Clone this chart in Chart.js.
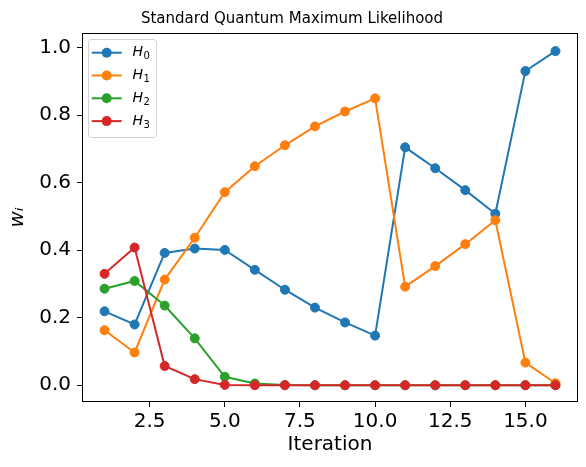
<!DOCTYPE html>
<html lang="en">
<head>
<meta charset="UTF-8">
<title>Standard Quantum Maximum Likelihood</title>
<script src="https://cdn.jsdelivr.net/npm/chart.js"></script>
<style>
    body { margin: 0; background: white; }
    #wrap { width: 586px; height: 467px; }
</style>
</head>
<body>
<div id="wrap"><canvas id="mlChart" width="586" height="467"></canvas></div>
<script>
    // values
    const iterations = [1, 2, 3, 4, 5, 6, 7, 8, 9, 10, 11, 12, 13, 14, 15, 16];
    const h0 = [0.219, 0.180, 0.392, 0.405, 0.401, 0.342, 0.283, 0.230, 0.186, 0.147, 0.705, 0.643, 0.578, 0.508, 0.931, 0.990];
    const h1 = [0.163, 0.097, 0.313, 0.437, 0.572, 0.649, 0.711, 0.767, 0.811, 0.850, 0.292, 0.353, 0.418, 0.489, 0.067, 0.006];
    const h2 = [0.286, 0.309, 0.236, 0.139, 0.025, 0.005, 0.001, 0, 0, 0, 0, 0, 0, 0, 0, 0];
    const h3 = [0.330, 0.408, 0.057, 0.018, 0.001, 0, 0, 0, 0, 0, 0, 0, 0, 0, 0, 0];
    const seriesNames = ['H₀', 'H₁', 'H₂', 'H₃'];
    const seriesColors = ['#1f77b4', '#ff7f0e', '#2ca02c', '#d62728'];
    const xTicks = [2.5, 5.0, 7.5, 10.0, 12.5, 15.0];
    const yTicks = [0.0, 0.2, 0.4, 0.6, 0.8, 1.0];

    const FONT = 'DejaVu Sans';

    const toPoints = vals => vals.map((v, i) => ({ x: iterations[i], y: v }));

    const datasets = [h0, h1, h2, h3].map((vals, i) => ({
        label: seriesNames[i],
        data: toPoints(vals),
        borderColor: seriesColors[i],
        backgroundColor: seriesColors[i],
        borderWidth: 2,
        pointRadius: 4.5,
        pointBorderWidth: 1,
        pointHoverRadius: 4.5,
        tension: 0,
        order: 4 - i   // later series on top, like matplotlib
    }));

    // unicode subscript digit -> plain digit, drawn small and lowered
    const plainDigits = s => s.replace(/[\u2080-\u2089]/g, c => String(c.charCodeAt(0) - 0x2080));

    // axes frame on all four sides + legend box inside the plot
    const frameAndLegend = {
        id: 'frameAndLegend',
        afterDraw(chart) {
            const { ctx, chartArea: a } = chart;
            ctx.save();
            ctx.strokeStyle = '#000';
            ctx.lineWidth = 1;
            const l = Math.round(a.left) + 0.5, t = Math.round(a.top) + 0.5;
            const r = Math.round(a.right) - 0.5, b = Math.round(a.bottom) - 0.5;
            ctx.strokeRect(l, t, r - l, b - t);

            const lx = Math.round(a.left) + 6, ly = Math.round(a.top) + 6;
            ctx.beginPath();
            if (ctx.roundRect) ctx.roundRect(lx + 0.5, ly + 0.5, 68, 98, 3);
            else ctx.rect(lx + 0.5, ly + 0.5, 68, 98);
            ctx.fillStyle = 'rgba(255,255,255,0.8)';
            ctx.fill();
            ctx.strokeStyle = '#d0d0d0';
            ctx.stroke();

            chart.data.datasets.forEach((ds, i) => {
                const cy = ly + 13.7 + i * 22.8;
                ctx.strokeStyle = ds.borderColor;
                ctx.lineWidth = 2;
                ctx.beginPath();
                ctx.moveTo(lx + 3.7, cy);
                ctx.lineTo(lx + 33.7, cy);
                ctx.stroke();
                ctx.fillStyle = ds.borderColor;
                ctx.beginPath();
                ctx.arc(lx + 18.7, cy, 5, 0, Math.PI * 2);
                ctx.fill();

                ctx.fillStyle = '#000';
                ctx.textBaseline = 'middle';
                ctx.font = 'italic 14px "' + FONT + '"';
                const base = ds.label.charAt(0);
                ctx.fillText(base, lx + 44.5, cy);
                const w = ctx.measureText(base).width;
                ctx.font = '10px "' + FONT + '"';
                ctx.fillText(plainDigits(ds.label.slice(1)), lx + 44.5 + w + 0.5, cy + 4);
            });
            ctx.restore();
        }
    };

    const ctx = document.getElementById('mlChart').getContext('2d');
    const chart = new Chart(ctx, {
        type: 'line',
        data: { datasets },
        plugins: [frameAndLegend],
        options: {
            responsive: false,
            animation: false,
            devicePixelRatio: 1,
            layout: { padding: { left: 6, right: 8, top: 0, bottom: 0 } },
            plugins: {
                legend: { display: false },
                tooltip: { enabled: false },
                title: {
                    display: true,
                    text: 'Standard Quantum Maximum Likelihood',
                    color: '#000',
                    font: { family: FONT, size: 15, weight: 'normal' },
                    padding: { top: 10, bottom: 5 }
                }
            },
            scales: {
                x: {
                    type: 'linear',
                    min: 0.25,
                    max: 16.75,
                    afterBuildTicks: s => { s.ticks = xTicks.map(v => ({ value: v })); },
                    afterFit: s => { s.height = 65; },
                    ticks: {
                        callback: v => v.toFixed(1),
                        color: '#000',
                        font: { family: FONT, size: 20 },
                        padding: 3,
                        maxRotation: 0,
                        autoSkip: false
                    },
                    grid: { drawOnChartArea: false, drawTicks: true, tickLength: 5, tickColor: '#000' },
                    border: { display: false },
                    title: {
                        display: true,
                        text: 'Iteration',
                        color: '#000',
                        font: { family: FONT, size: 20 },
                        padding: { top: 0, bottom: 10 }
                    }
                },
                y: {
                    type: 'linear',
                    min: -0.0497,
                    max: 1.0437,
                    afterBuildTicks: s => { s.ticks = yTicks.map(v => ({ value: v })); },
                    afterFit: s => { s.width = 76; },
                    ticks: {
                        callback: v => v.toFixed(1),
                        color: '#000',
                        font: { family: FONT, size: 20 },
                        padding: 6,
                        autoSkip: false
                    },
                    grid: { drawOnChartArea: false, drawTicks: true, tickLength: 5, tickColor: '#000' },
                    border: { display: false },
                    title: {
                        display: true,
                        text: 'wᵢ',
                        color: '#000',
                        font: { family: FONT, size: 20, style: 'italic' },
                        padding: 0
                    }
                }
            }
        }
    });
</script>
</body>
</html>
